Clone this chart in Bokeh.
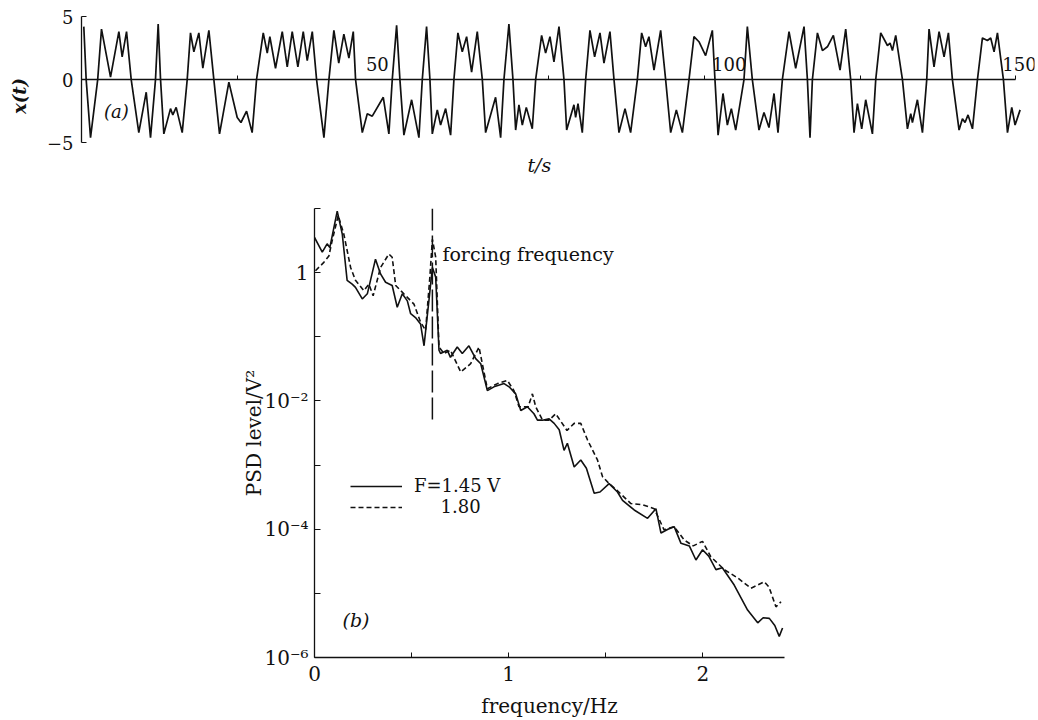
from bokeh.plotting import figure
from bokeh.models import FixedTicker, Label, Legend, CustomJSTickFormatter
from bokeh.embed import file_html
from bokeh.resources import INLINE

# ---------------- data: (a) time series x(t) ----------------
t_sig = [0.37, 0.75, 1.45, 2.6, 3.21, 4.66, 6.0, 6.53, 7.23, 7.98, 9.2, 10.39, 11.08, 11.88, 12.31,
         12.69, 13.22, 14.29, 14.66, 15.2, 16.17, 16.97, 17.5, 18.04, 18.84, 19.48, 20.45, 21.25,
         22.16, 23.66, 25.0, 25.6, 26.5, 27.4, 28.1, 29.18, 29.82, 30.24, 31.15, 32.23, 33.03,
         33.83, 34.74, 35.6, 36.24, 37.05, 37.74, 38.92, 39.72, 40.52, 41.3, 42.12, 42.93, 43.63,
         44.0, 45.08, 45.88, 46.68, 48.45, 49.35, 49.89, 50.59, 51.12, 51.76, 53.0, 54.17, 54.71,
         55.4, 55.94, 56.32, 57.12, 57.65, 58.46, 59.26, 59.79, 60.43, 61.13, 61.83, 62.63, 63.54,
         64.35, 64.88, 66.48, 67.29, 67.82, 68.62, 69.27, 69.7, 70.23, 70.77, 71.41, 72.37, 72.91,
         73.87, 74.51, 75.21, 75.85, 76.66, 77.46, 77.89, 79.06, 79.33, 79.71, 80.4, 80.94, 81.63,
         82.38, 83.24, 83.88, 84.84, 85.49, 86.29, 87.26, 88.16, 89.24, 89.93, 90.57, 91.1, 91.91,
         92.98, 93.78, 94.59, 95.5, 96.47, 97.53, 98.33, 99.13, 100.2, 101.28, 101.7, 102.2,
         102.99, 103.69, 104.33, 105.03, 106.36, 106.9, 107.7, 108.77, 109.57, 110.37, 111.18,
         111.82, 112.52, 113.59, 114.66, 116.0, 116.54, 116.96, 117.34, 118.15, 118.95, 119.75,
         120.71, 121.78, 122.69, 123.49, 124.03, 124.57, 125.26, 125.9, 126.98, 127.51, 128.31,
         129.39, 129.81, 130.19, 130.72, 131.8, 132.6, 133.13, 133.4, 134.2, 135.01, 135.7,
         136.07, 136.87, 137.68, 138.48, 139.18, 139.82, 140.89, 141.43, 141.85, 142.33, 143.04,
         143.84, 144.64, 145.44, 145.97, 146.51, 147.05, 148.01, 148.66, 149.35, 149.88, 150.69]
x_sig = [4.2, 0, -4.6, 0, 4.0, 0.2, 3.8, 1.8, 3.8, 0, -4.2, -1.0, -4.6, 0, 4.4,
         0, -4.3, -2.3, -2.8, -2.2, -4.2, 0, 3.7, 2.2, 3.7, 0.9, 3.9, 0,
         -4.3, -0.2, -3.0, -3.4, -2.5, -4.2, 0, 3.7, 2.1, 3.4, 0.9, 3.8, 1.0,
         3.8, 1.0, 3.8, 1.5, 3.8, 0, -4.6, 0, 3.9, 1.3, 3.6, 1.7, 3.8,
         0, -4.2, -2.7, -2.9, -1.4, -4.3, 0, 4.3, 0, -4.4, -1.6, -4.6, 0,
         4.2, 0, -4.3, -2.4, -3.6, -2.3, -4.4, 0, 3.7, 2.2, 3.4, 0.6, 3.8,
         0, -4.2, -1.4, -4.6, 0, 4.4, 0, -4.0, -2.0, -3.6, -2.2, -3.9, 0,
         3.5, 2.1, 3.4, 1.4, 4.2, 0, -4.0, -2.0, -3.0, -1.9, -4.2, 0, 3.9,
         1.8, 3.7, 1.3, 3.8, 0, -4.2, -2.3, -4.2, 0, 3.7, 2.6, 3.4, 0.75,
         3.9, 0, -4.2, -2.4, -4.2, 0, 3.4, 3.0, 1.9, 3.9, 0, -4.4,
         -1.1, -3.6, -2.3, -4.0, 0, 4.2, 0, -4.0, -2.6, -3.8, -1.1,
         -4.2, 0, 3.8, 0.9, 4.2, 0, -4.6, 0, 3.7, 2.3, 2.6,
         3.5, 0.75, 4.0, 0, -4.2, -1.9, -3.9, -1.6, -4.3, 0, 3.7,
         2.7, 2.9, 2.3, 3.5, 0, -3.9, -2.7, -3.4, -1.6, -4.2, 0,
         4.0, 1.0, 3.8, 1.8, 3.7, 0, -4.0, -3.1, -3.4, -2.8, -3.9,
         0, 3.3, 3.1, 3.3, 2.2, 3.7, 0, -4.2, -2.2, -3.6, -2.4]
t_ticks = [25, 50, 75, 100, 125, 150]
t_tick_labels = ["50", "100", "150"]
t_label_pos = [47.5, 104.0, 150.6]
x_ticks = [-5, 0, 5]

# ---------------- data: (b) power spectral density ----------------
f_145 = [0.0, 0.04, 0.065, 0.079, 0.117, 0.143, 0.168, 0.194, 0.211, 0.246, 0.272, 0.314, 0.34,
         0.366, 0.40, 0.426, 0.452, 0.478, 0.495, 0.52, 0.546, 0.564, 0.589, 0.607, 0.624, 0.641,
         0.649, 0.684, 0.70, 0.735, 0.761, 0.795, 0.83, 0.856, 0.89, 0.924, 0.976, 1.002, 1.036,
         1.062, 1.096, 1.13, 1.148, 1.174, 1.208, 1.234, 1.26, 1.285, 1.302, 1.337, 1.371, 1.40,
         1.44, 1.47, 1.517, 1.56, 1.586, 1.646, 1.715, 1.758, 1.784, 1.82, 1.852, 1.887, 1.93,
         1.964, 1.998, 2.03, 2.067, 2.10, 2.161, 2.23, 2.282, 2.31, 2.342, 2.37, 2.393, 2.41]
logpsd_145 = [0.55, 0.32, 0.45, 0.39, 0.96, 0.60, -0.12, -0.18, -0.23, -0.41, -0.33, 0.21, -0.02,
              -0.15, -0.20, -0.54, -0.33, -0.44, -0.64, -0.70, -0.80, -1.14, -0.44, 0.08, -0.07, -1.21,
              -1.26, -1.21, -1.32, -1.16, -1.26, -1.14, -1.34, -1.42, -1.84, -1.78, -1.73, -1.78, -1.89,
              -2.15, -2.09, -2.20, -2.30, -2.30, -2.28, -2.35, -2.45, -2.77, -2.66, -3.03, -2.92, -3.05,
              -3.44, -3.42, -3.29, -3.42, -3.55, -3.70, -3.83, -3.68, -4.06, -4.00, -3.96, -4.22, -4.26,
              -4.48, -4.32, -4.42, -4.63, -4.60, -4.87, -5.26, -5.46, -5.38, -5.39, -5.50, -5.67, -5.54]
f_180 = [0.005, 0.048, 0.074, 0.091, 0.122, 0.151, 0.186, 0.211, 0.254, 0.28, 0.302, 0.34, 0.383,
         0.40, 0.418, 0.46, 0.512, 0.546, 0.572, 0.594, 0.607, 0.624, 0.641, 0.667, 0.70, 0.753,
         0.804, 0.847, 0.864, 0.89, 0.942, 0.993, 1.027, 1.053, 1.10, 1.122, 1.139, 1.174, 1.208,
         1.242, 1.30, 1.337, 1.371, 1.406, 1.457, 1.483, 1.517, 1.56, 1.629, 1.69, 1.749, 1.80,
         1.852, 1.904, 1.95, 1.998, 2.041, 2.11, 2.179, 2.247, 2.316, 2.34, 2.376, 2.402]
logpsd_180 = [0.03, 0.16, 0.26, 0.50, 0.89, 0.60, 0.08, -0.12, -0.28, -0.18, -0.36, 0.08, 0.29,
              0.24, -0.20, -0.33, -0.49, -0.77, -0.90, -0.07, 0.52, 0.24, -1.16, -1.26, -1.21, -1.55,
              -1.42, -1.16, -1.42, -1.81, -1.73, -1.68, -1.84, -2.09, -2.09, -1.89, -2.09, -2.30, -2.30,
              -2.20, -2.46, -2.35, -2.35, -2.61, -2.92, -3.18, -3.29, -3.40, -3.60, -3.62, -3.68, -4.01,
              -3.96, -4.17, -4.26, -4.19, -4.43, -4.63, -4.76, -4.92, -4.82, -4.90, -5.21, -5.13]
psd_145 = [10 ** v for v in logpsd_145]
psd_180 = [10 ** v for v in logpsd_180]
forcing_f = 0.607
forcing_line_y = [10.0, 5e-3]
f_major = [0, 1, 2]
f_minor = [0.5, 1.5]
psd_major = [1e-6, 1e-4, 1e-2, 1.0]
psd_minor = [1e-5, 1e-3, 1e-1, 10.0]
legend_labels = ["F=1.45 V", "\u2007\u2007\u20091.80"]

FONT = "DejaVu Serif"
INK = "#111111"

# ---------------- (a) ----------------
p1 = figure(width=1038, height=180, x_range=(0, 153), y_range=(-7.6, 5),
            output_backend="svg", toolbar_location=None,
            min_border_left=81, min_border_right=4, min_border_top=16, min_border_bottom=5)
p1.grid.visible = False
p1.outline_line_color = None
p1.line(t_sig, x_sig, line_color=INK, line_width=1.7)

xa = p1.xaxis[0]
xa.fixed_location = 0
xa.bounds = (0, 150)
xa.ticker = FixedTicker(ticks=[], minor_ticks=t_ticks)
xa.major_tick_line_color = None
xa.minor_tick_in = 4
xa.minor_tick_out = 0
xa.minor_tick_line_color = INK
xa.axis_line_color = INK
xa.axis_line_width = 1.3
xa.major_label_standoff = 0
xa.axis_label_standoff = 0

ya = p1.yaxis[0]
ya.bounds = (-5, 5)
ya.ticker = FixedTicker(ticks=x_ticks)
ya.major_label_overrides = {-5: "\u22125", 0: "0", 5: "5"}
ya.major_tick_in = 5
ya.major_tick_out = 0
ya.minor_tick_line_color = None
ya.axis_line_color = INK
ya.major_tick_line_color = INK
ya.axis_line_width = 1.3
ya.major_label_text_font = FONT
ya.major_label_text_font_size = "18px"
ya.major_label_text_color = INK
ya.major_label_standoff = 8
ya.axis_label = "x(t)"
ya.axis_label_text_font = FONT
ya.axis_label_text_font_style = "bold italic"
ya.axis_label_text_font_size = "18px"
ya.axis_label_text_color = INK
ya.axis_label_standoff = 14

for txt, xpos in zip(t_tick_labels, t_label_pos):
    p1.add_layout(Label(x=xpos, y=1.2, text=txt, text_align="center", text_baseline="middle",
                        text_font=FONT, text_font_size="18px", text_color=INK))
p1.add_layout(Label(x=5.6, y=-2.5, text="(a)", text_align="center", text_baseline="middle",
                    text_font=FONT, text_font_style="italic", text_font_size="18px", text_color=INK))
p1.add_layout(Label(x=73.5, y=-6.8, text="t/s", text_align="center", text_baseline="middle",
                    text_font=FONT, text_font_style="italic", text_font_size="19px", text_color=INK))

# ---------------- (b) ----------------
p2 = figure(width=804, height=540, x_range=(0, 2.42), y_range=(1e-6, 10), y_axis_type="log",
            output_backend="svg", toolbar_location=None,
            min_border_left=314, min_border_right=20, min_border_top=28, min_border_bottom=62)
p2.grid.visible = False
p2.outline_line_color = None

r145 = p2.line(f_145, psd_145, line_color=INK, line_width=1.6)
r180 = p2.line(f_180, psd_180, line_color=INK, line_width=1.6, line_dash="5 3")
p2.segment(x0=[forcing_f], y0=[forcing_line_y[0]], x1=[forcing_f], y1=[forcing_line_y[1]],
           line_color=INK, line_width=1.5, line_dash="22 5")

bx = p2.xaxis[0]
bx.ticker = FixedTicker(ticks=f_major, minor_ticks=f_minor)
bx.major_tick_in = 5
bx.major_tick_out = 0
bx.minor_tick_in = 5
bx.minor_tick_out = 0
bx.minor_tick_line_color = INK
bx.axis_line_color = INK
bx.major_tick_line_color = INK
bx.axis_line_width = 1.3
bx.major_label_text_font = FONT
bx.major_label_text_font_size = "20px"
bx.major_label_text_color = INK
bx.major_label_standoff = 8
bx.axis_label = "frequency/Hz"
bx.axis_label_text_font = FONT
bx.axis_label_text_font_style = "normal"
bx.axis_label_text_font_size = "20px"
bx.axis_label_text_color = INK
bx.axis_label_standoff = 10

by = p2.yaxis[0]
by.ticker = FixedTicker(ticks=psd_major, minor_ticks=psd_minor)
by.formatter = CustomJSTickFormatter(code="""
const e = Math.round(Math.log10(tick));
if (e === 0) return "1";
const sup = {"-": "\u207b", "0": "\u2070", "1": "\u00b9", "2": "\u00b2", "3": "\u00b3",
             "4": "\u2074", "5": "\u2075", "6": "\u2076", "7": "\u2077", "8": "\u2078", "9": "\u2079"};
return "10" + String(e).split("").map(c => sup[c]).join("");
""")
by.major_tick_in = 6
by.major_tick_out = 0
by.minor_tick_in = 6
by.minor_tick_out = 0
by.minor_tick_line_color = INK
by.axis_line_color = INK
by.major_tick_line_color = INK
by.axis_line_width = 1.3
by.major_label_text_font = FONT
by.major_label_text_font_size = "20px"
by.major_label_text_color = INK
by.major_label_standoff = 6
by.axis_label = "PSD level/V\u00b2"
by.axis_label_text_font = FONT
by.axis_label_text_font_style = "normal"
by.axis_label_text_font_size = "20px"
by.axis_label_text_color = INK
by.axis_label_standoff = -5

legend = Legend(items=[(legend_labels[0], [r145]), (legend_labels[1], [r180])],
                location=(36, 140), glyph_width=52, glyph_height=20, label_height=20,
                label_standoff=12, spacing=0, padding=0, margin=0,
                border_line_color=None, background_fill_alpha=0,
                label_text_font=FONT, label_text_font_size="18px", label_text_color=INK)
p2.add_layout(legend)

p2.add_layout(Label(x=forcing_f, y=1.97, x_offset=10, text="forcing frequency", text_align="left",
                    text_baseline="middle", text_font=FONT, text_font_size="19px", text_color=INK))
p2.add_layout(Label(x=0.144, y=3.9e-6, text="(b)", text_align="left", text_baseline="middle",
                    text_font=FONT, text_font_style="italic", text_font_size="19px", text_color=INK))

open("out.html", "w").write(file_html([p1, p2], INLINE))
